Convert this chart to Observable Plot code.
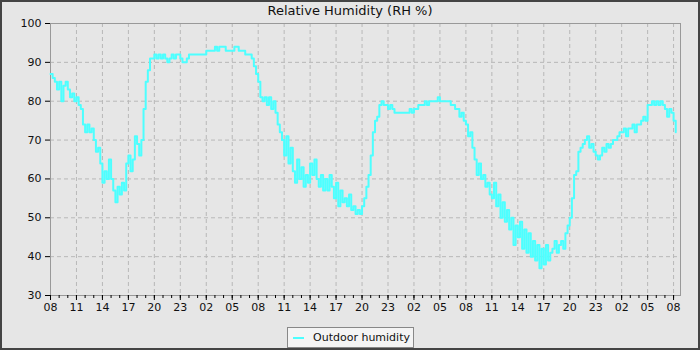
<!DOCTYPE html>
<html><head><meta charset="utf-8">
<script src="https://cdn.jsdelivr.net/npm/d3@7"></script>
<script src="https://cdn.jsdelivr.net/npm/@observablehq/plot@0.6"></script>
<style>
html,body{margin:0;padding:0;background:#fff;}
#chart{position:relative;width:700px;height:350px;background:#e6e6e6;font-family:"DejaVu Sans",sans-serif;overflow:hidden;}
#plot{position:absolute;left:0;top:0;}
#border{position:absolute;left:0;top:0;width:700px;height:350px;box-sizing:border-box;border:2px solid #444;pointer-events:none;}
#title{position:absolute;left:0;top:3px;width:700px;text-align:center;font-size:13px;color:#111;}
#legend{position:absolute;left:287px;top:327px;width:127px;height:21px;box-sizing:border-box;border:1px solid #888;background:#f4f4f4;font-size:11px;color:#111;display:flex;align-items:center;}
#legend .sw{display:inline-block;width:11px;height:2px;background:#4dffff;margin-left:5px;margin-right:9px;}
</style></head>
<body>
<div id="chart">
  <div id="plot"></div>
  <div id="title">Relative Humidity (RH %)</div>
  <div id="legend"><span class="sw"></span><span>Outdoor humidity</span></div>
  <div id="border"></div>
</div>
<script>
// Samples every 15 minutes starting 08:00 on day 1
const humidityDay1 = [
  87,86,85,83, 85,80,84,85, 83,81,82,80, 81,79,78,74,
  72,74,72,73, 70,67,68,64, 59,62,60,65, 60,57,54,58,
  56,59,57,64, 66,62,65,71, 69,66,70,78, 85,88,91,91,
  92,91,92,91, 92,91,90,91, 92,91,92,92, 91,90,90,91,
  92,92,92,92, 92,92,92,92, 93,93,93,93, 94,93,94,94,
  94,93,93,93, 93,94,94,93, 93,93,92,92, 92,91,89,87
];
const humidityDay2 = [
  85,81,80,81, 79,81,78,80, 77,74,72,70, 66,71,64,68,
  62,59,65,60, 63,58,61,59, 64,61,65,60, 58,61,57,60,
  57,61,58,55, 59,53,57,54, 55,53,56,52, 53,51,52,51,
  53,55,58,61, 66,72,75,76, 79,80,79,79, 78,79,78,77,
  77,77,77,77, 77,77,78,77, 78,78,79,79, 79,80,79,80,
  80,80,80,81, 80,80,80,80, 80,79,79,78, 78,76,77,75
];
const humidityDay3 = [
  74,71,72,68, 65,61,64,60, 61,58,59,56, 55,59,53,56,
  50,54,49,52, 47,50,43,48, 45,49,42,47, 41,46,40,44,
  39,43,37,42, 38,43,39,41, 42,44,41,43, 44,42,46,48,
  50,55,61,62, 67,68,69,70, 71,68,69,67, 66,65,66,68,
  67,69,68,69, 70,70,71,72, 72,73,71,73, 73,74,72,74,
  74,75,76,75, 79,79,80,79, 80,79,80,79, 78,76,78,77,
  75,72
];
const yTicks = [30,40,50,60,70,80,90,100];
const majorTickHours = d3.range(0, 73, 3);
const minorTickHours = d3.range(0, 73, 1);
const startTime = Date.UTC(2024,0,1,8,0);
const sampleMinutes = 15;
const domainHours = 72.8;

const values = [...humidityDay1, ...humidityDay2, ...humidityDay3];
const data = values.map((v,i) => ({time: new Date(startTime + i*sampleMinutes*60000), rh: v}));
const hourDate = h => new Date(startTime + h*3600000);
const majorTicks = majorTickHours.map(hourDate);
const minorTicks = minorTickHours.map(hourDate);
const fmt = d3.utcFormat("%H");

const chart = Plot.plot({
  width: 700, height: 350,
  marginLeft: 50, marginRight: 20, marginTop: 23, marginBottom: 55,
  style: {background: "transparent", fontFamily: "'DejaVu Sans', sans-serif", fontSize: "11px", color: "#111"},
  x: {type: "utc", domain: [new Date(startTime), hourDate(domainHours)], label: null},
  y: {domain: [30, 100], label: null},
  marks: [
    Plot.gridY(yTicks, {stroke: "#b8b8b8", strokeOpacity: 1, strokeDasharray: "4,3"}),
    Plot.gridX(majorTicks, {stroke: "#b8b8b8", strokeOpacity: 1, strokeDasharray: "4,3"}),
    Plot.frame({stroke: "#999"}),
    Plot.line(data, {x: "time", y: "rh", stroke: "#4dffff", strokeWidth: 2, curve: "step-after"}),
    Plot.axisY(yTicks, {tickSize: 5, tickPadding: 4, stroke: "#000", label: null}),
    Plot.axisX(majorTicks, {tickSize: 5, tickPadding: 3, stroke: "#000", tickFormat: fmt, label: null}),
    Plot.axisX(minorTicks, {tickSize: 3, stroke: "#000", tickFormat: () => "", label: null})
  ]
});
document.getElementById("plot").appendChild(chart);
</script>
</body></html>
